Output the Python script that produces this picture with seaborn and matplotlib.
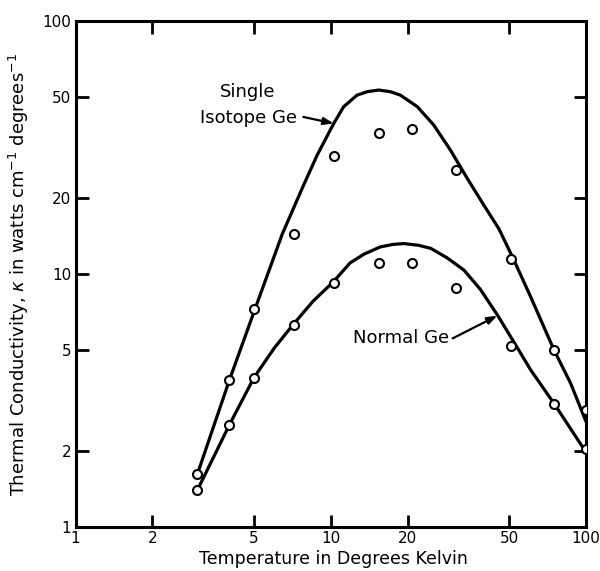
import matplotlib
matplotlib.use("Agg")
import matplotlib.pyplot as plt
from matplotlib.ticker import FixedLocator, FixedFormatter, NullLocator
import pandas as pd
import seaborn as sns

# Measured thermal conductivity (open circles)
temp_pts = [3, 4, 5, 7.2, 10.3, 15.5, 20.8, 30.8, 50.6, 74.8, 100]
single_pts = [1.62, 3.8, 7.3, 14.4, 29.3, 36.2, 37.3, 25.9, 11.5, 5.0, 2.9]
normal_pts = [1.40, 2.53, 3.9, 6.3, 9.2, 11.05, 11.05, 8.83, 5.19, 3.06, 2.03]

# Theoretical curves
single_curve_t = [3, 4, 5.05, 6.45, 7.82, 8.83, 10.26, 11.22, 12.67, 13.87, 15.4,
                  17.1, 18.7, 21.8, 25.3, 29.4, 34.2, 39.5, 45.5, 51.4, 60.6,
                  74.8, 86.9, 100]
single_curve_k = [1.62, 3.8, 7.3, 14.4, 22.5, 29.5, 39.4, 45.9, 51.0, 52.6, 53.4,
                  52.6, 51.0, 45.9, 38.8, 30.9, 23.9, 18.9, 15.1, 11.7, 8.13,
                  5.01, 3.70, 2.6]
normal_curve_t = [3, 4, 5, 6, 7.1, 8.5, 10.2, 11.9, 13.5, 15.6, 17.5, 19.3, 22.0,
                  24.6, 28.5, 33.2, 38.5, 44.9, 52.0, 60.6, 74.8, 100]
normal_curve_k = [1.40, 2.53, 3.9, 5.1, 6.3, 7.8, 9.3, 11.08, 12.0, 12.8, 13.1,
                  13.2, 13.0, 12.64, 11.6, 10.37, 8.7, 6.89, 5.4, 4.18, 3.08, 1.97]

tick_values = [1, 2, 5, 10, 20, 50, 100]
tick_labels = ["1", "2", "5", "10", "20", "50", "100"]

sns.set_theme(style="ticks")
plt.rcParams["font.family"] = ["DejaVu Sans"]
plt.rcParams["text.color"] = "black"
plt.rcParams["axes.labelcolor"] = "black"

pts = pd.DataFrame({
    "T": temp_pts * 2,
    "k": single_pts + normal_pts,
    "sample": ["Single Isotope Ge"] * len(temp_pts) + ["Normal Ge"] * len(temp_pts),
})
curves = pd.DataFrame({
    "T": single_curve_t + normal_curve_t,
    "k": single_curve_k + normal_curve_k,
    "sample": ["Single Isotope Ge"] * len(single_curve_t) + ["Normal Ge"] * len(normal_curve_t),
})

fig = plt.figure(figsize=(6.0, 5.71), dpi=100)
ax = fig.add_axes([0.126, 0.077, 0.851, 0.886])

sns.lineplot(data=curves, x="T", y="k", units="sample", estimator=None,
             color="black", linewidth=2.3, sort=False, ax=ax, legend=False)
sns.scatterplot(data=pts, x="T", y="k", marker="o", s=42, facecolor="white",
                edgecolor="black", linewidth=1.5, ax=ax, legend=False, zorder=5)

ax.set_xscale("log")
ax.set_yscale("log")
ax.set_xlim(1, 100)
ax.set_ylim(1, 100)

for axis in (ax.xaxis, ax.yaxis):
    axis.set_major_locator(FixedLocator(tick_values))
    axis.set_major_formatter(FixedFormatter(tick_labels))
    axis.set_minor_locator(NullLocator())

ax.tick_params(which="major", direction="in", length=9, width=2,
               top=True, right=True, labelsize=11, pad=3, colors="black")

for sp in ax.spines.values():
    sp.set_linewidth(2.2)
    sp.set_color("black")

ax.set_xlabel("Temperature in Degrees Kelvin", fontsize=12.5)
ax.set_ylabel(r"Thermal Conductivity, $\kappa$ in watts cm$^{-1}$ degrees$^{-1}$",
              fontsize=13)
ax.xaxis.set_label_coords(0.505, -0.045)
ax.yaxis.set_label_coords(-0.088, 0.5)

ax.text(4.7, 52.4, "Single", fontsize=13, ha="center", va="center")
ax.text(4.75, 41.5, "Isotope Ge", fontsize=13, ha="center", va="center")
ax.annotate("", xy=(10.26, 39.4), xytext=(7.8, 41.8),
            arrowprops=dict(arrowstyle="-|>,head_length=0.5,head_width=0.18",
                            color="black", lw=1.6, shrinkA=0, shrinkB=0))

ax.text(18.9, 5.58, "Normal Ge", fontsize=13, ha="center", va="center")
ax.annotate("", xy=(44.9, 6.85), xytext=(30.0, 5.57),
            arrowprops=dict(arrowstyle="-|>,head_length=0.5,head_width=0.18",
                            color="black", lw=1.6, shrinkA=0, shrinkB=0))

fig.savefig("out.png", dpi=100)
